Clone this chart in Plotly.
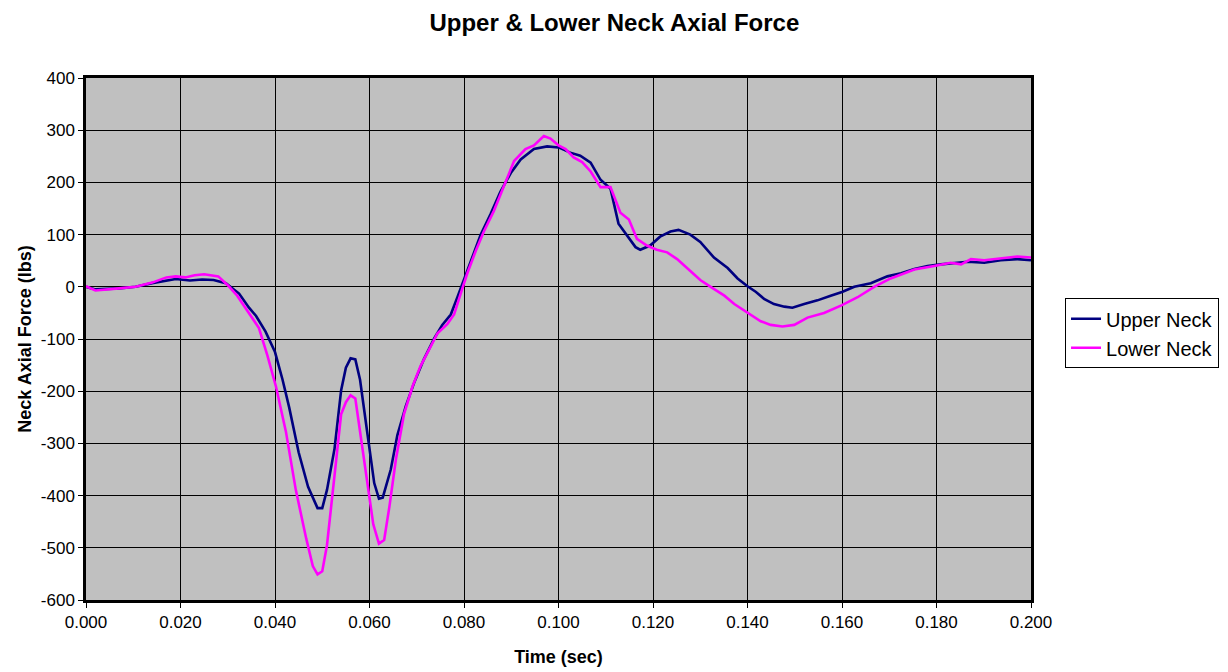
import plotly.graph_objects as go

# Upper neck (time in sec, force in lbs)
upper_t = [0.000, 0.002, 0.007, 0.0105, 0.014, 0.017, 0.019, 0.022, 0.0246, 0.027, 0.0296, 0.0324,
           0.0345, 0.036, 0.038, 0.040, 0.0416, 0.043, 0.045, 0.047, 0.049, 0.050, 0.051, 0.0526,
           0.054, 0.055, 0.056, 0.057, 0.058, 0.0596, 0.061, 0.062, 0.0628, 0.0645, 0.0659, 0.0677,
           0.0694, 0.0715, 0.0737, 0.0754, 0.0772, 0.0786, 0.080, 0.0814, 0.0835, 0.0856, 0.0877,
           0.0899, 0.092, 0.0948, 0.0976, 0.100, 0.1025, 0.1046, 0.1068, 0.1089, 0.111, 0.1127,
           0.1145, 0.1163, 0.1173, 0.1194, 0.1215, 0.1237, 0.1254, 0.1279, 0.130, 0.1329, 0.1358,
           0.1379, 0.140, 0.1418, 0.1435, 0.1456, 0.1478, 0.1495, 0.152, 0.1548, 0.1576, 0.160,
           0.1626, 0.1661, 0.1696, 0.1725, 0.1753, 0.1781, 0.1809, 0.1837, 0.1866, 0.1901, 0.1936,
           0.1971, 0.200]
upper_f = [0, -5, -3, 0, 7, 12, 15, 12, 14, 13, 7, -13,
           -40, -56, -86, -125, -178, -231, -317, -383, -424, -424, -389, -310,
           -198, -155, -137, -139, -178, -284, -376, -406, -404, -350, -284, -228,
           -185, -139, -99, -73, -53, -20, 13, 50, 99, 139, 182,
           218, 244, 264, 269, 267, 257, 251, 238, 205, 188, 121,
           99, 76, 71, 79, 96, 106, 109, 100, 86, 56, 36,
           16, 1, -10, -23, -33, -38, -40, -33, -26, -17, -10,
           0, 7, 20, 26, 34, 40, 43, 46, 48, 46, 51,
           53, 51]

# Lower neck
lower_t = [0.000, 0.002, 0.007, 0.0105, 0.014, 0.017, 0.019, 0.021, 0.023, 0.025, 0.028, 0.030,
           0.032, 0.0345, 0.0366, 0.0384, 0.0402, 0.0423, 0.0444, 0.0466, 0.048, 0.049, 0.050,
           0.051, 0.0526, 0.054, 0.055, 0.056, 0.057, 0.058, 0.0596, 0.0608, 0.062, 0.0631,
           0.0642, 0.0656, 0.0673, 0.0691, 0.0708, 0.073, 0.0744, 0.0765, 0.0779, 0.0793, 0.0807,
           0.0825, 0.0842, 0.0863, 0.0885, 0.0906, 0.093, 0.0948, 0.0969, 0.0983, 0.100, 0.1015,
           0.1032, 0.105, 0.1068, 0.1089, 0.111, 0.1131, 0.1149, 0.1166, 0.1187, 0.1208, 0.123,
           0.1251, 0.1272, 0.130, 0.1322, 0.1351, 0.1372, 0.140, 0.1428, 0.1449, 0.1474, 0.1499,
           0.1527, 0.1562, 0.160, 0.1633, 0.1668, 0.1703, 0.1753, 0.1795, 0.183, 0.1852, 0.1873,
           0.1901, 0.1936, 0.1971, 0.200]
lower_f = [1, -7, -3, 0, 8, 18, 20, 18, 22, 24, 20, 3,
           -17, -50, -79, -132, -191, -277, -389, -482, -535, -551, -545,
           -495, -363, -244, -221, -208, -214, -277, -376, -455, -492, -485,
           -422, -330, -244, -191, -152, -112, -89, -71, -53, -13, 26,
           69, 106, 145, 195, 241, 264, 271, 289, 284, 271, 264,
           248, 239, 221, 191, 191, 142, 129, 92, 79, 71, 66,
           53, 36, 13, 0, -17, -33, -50, -66, -73, -76, -73,
           -59, -50, -35, -20, 0, 16, 33, 40, 46, 43, 53,
           51, 54, 58, 56]

x_ticks = [0.000, 0.020, 0.040, 0.060, 0.080, 0.100, 0.120, 0.140, 0.160, 0.180, 0.200]
x_labels = ["0.000", "0.020", "0.040", "0.060", "0.080", "0.100", "0.120", "0.140", "0.160", "0.180", "0.200"]
y_ticks = [400, 300, 200, 100, 0, -100, -200, -300, -400, -500, -600]
y_labels = ["400", "300", "200", "100", "0", "-100", "-200", "-300", "-400", "-500", "-600"]

FONT = "Liberation Sans, Arial, sans-serif"

fig = go.Figure()
fig.add_trace(go.Scatter(x=upper_t, y=upper_f, mode="lines", name="Upper Neck",
                         line=dict(color="#000080", width=2.6)))
fig.add_trace(go.Scatter(x=lower_t, y=lower_f, mode="lines", name="Lower Neck",
                         line=dict(color="#FF00FF", width=2.6)))

# page body has an 8px margin, so the figure is sized to fill the rest of the window
fig.update_layout(
    width=1220, height=664,
    margin=dict(l=78, r=197, t=70, b=72, autoexpand=False),
    paper_bgcolor="white",
    plot_bgcolor="#C0C0C0",
    font=dict(family=FONT, size=17, color="black"),
    title=dict(text="<b>Upper & Lower Neck Axial Force</b>", x=0.497, xanchor="center",
               y=0.991, yanchor="top", font=dict(family=FONT, size=24, color="black")),
    showlegend=True,
    legend=dict(x=1.036, xanchor="left", y=0.511, yanchor="middle",
                bordercolor="#000000", borderwidth=1, bgcolor="white",
                font=dict(family=FONT, size=20), tracegroupgap=0, itemwidth=30),
    xaxis=dict(range=[0, 0.2], tickvals=x_ticks, ticktext=x_labels,
               showgrid=True, gridcolor="black", gridwidth=1,
               showline=True, linecolor="black", linewidth=2.5, mirror=True,
               ticks="outside", ticklen=5, tickcolor="black",
               zeroline=False, automargin=False,
               title=dict(text="<b>Time (sec)</b>", font=dict(family=FONT, size=18), standoff=20)),
    yaxis=dict(range=[-600, 400], tickvals=y_ticks, ticktext=y_labels,
               showgrid=True, gridcolor="black", gridwidth=1,
               showline=True, linecolor="black", linewidth=2.5, mirror=True,
               ticks="outside", ticklen=5, tickcolor="black",
               zeroline=False, automargin=False,
               title=dict(text="<b>Neck Axial Force (lbs)</b>", font=dict(family=FONT, size=18), standoff=5)),
)

fig.write_html("out.html")
